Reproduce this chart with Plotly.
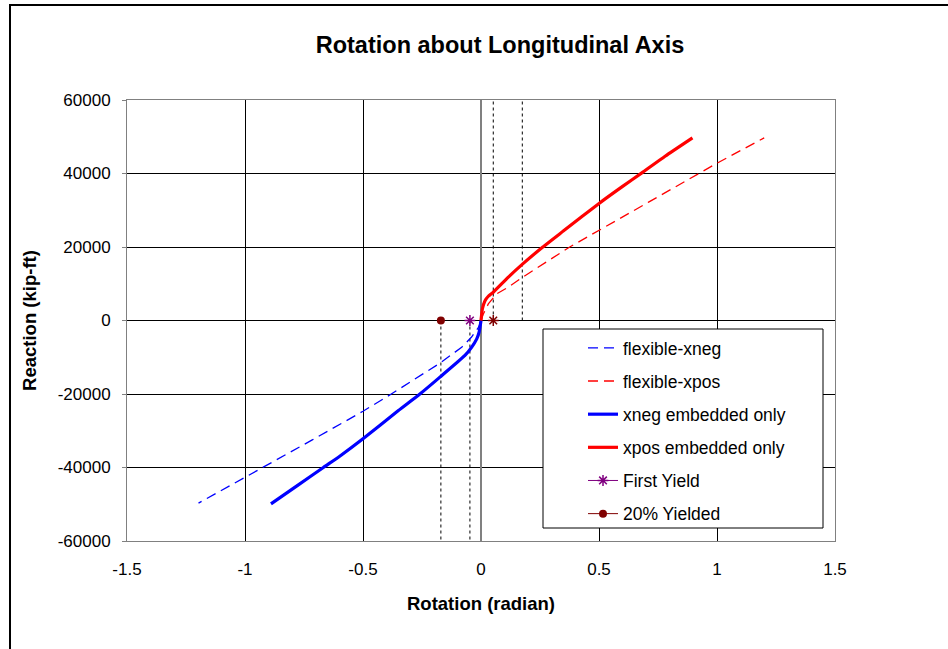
import plotly.graph_objects as go

# ---- data ----
flex_neg_x = [0, -0.01, -0.04, -0.082, -0.11, -0.174, -0.38, -0.5, -0.715, -1.0, -1.197]
flex_neg_y = [0, -1800, -4500, -7300, -8600, -11600, -20000, -24700, -32500, -42600, -49700]
flex_pos_x = [0, 0.01, 0.031, 0.066, 0.116, 0.177, 0.376, 0.503, 0.71, 1.0, 1.2]
flex_pos_y = [0, 1800, 4500, 7250, 9100, 11800, 20000, 24700, 32200, 42800, 49700]
xneg_x = [0, -0.008, -0.018, -0.04, -0.068, -0.174, -0.259, -0.35, -0.5, -0.6, -0.668, -0.78, -0.89]
xneg_y = [0, -3200, -5000, -7300, -9500, -15400, -20000, -24500, -32200, -37000, -40000, -45000, -49900]
xpos_x = [0, 0.006, 0.017, 0.031, 0.052, 0.116, 0.177, 0.262, 0.35, 0.503, 0.6, 0.68, 0.78, 0.896]
xpos_y = [0, 3200, 5400, 6600, 7700, 11800, 15400, 20000, 24400, 32000, 36500, 40100, 44700, 49700]

first_yield_x = [-0.047]
first_yield_y = [0]
first_yield_pos_x = [0.052]
first_yield_pos_y = [0]
yield20_x = [-0.17]
yield20_y = [0]

neg_guides = [-0.17, -0.047]
pos_guides = [0.052, 0.175]

x_ticks = [-1.5, -1, -0.5, 0, 0.5, 1, 1.5]
x_ticktext = ["-1.5", "-1", "-0.5", "0", "0.5", "1", "1.5"]
y_ticks = [-60000, -40000, -20000, 0, 20000, 40000, 60000]
y_ticktext = ["-60000", "-40000", "-20000", "0", "20000", "40000", "60000"]

FONT = "Liberation Sans, Arial, sans-serif"

fig = go.Figure()

# vertical dashed guide lines
for gx in neg_guides:
    fig.add_trace(go.Scatter(x=[gx, gx], y=[0, -60000], mode="lines",
                             line=dict(color="black", width=1, dash="3px,3px"),
                             showlegend=False, hoverinfo="skip"))
for gx in pos_guides:
    fig.add_trace(go.Scatter(x=[gx, gx], y=[0, 60000], mode="lines",
                             line=dict(color="black", width=1, dash="3px,3px"),
                             showlegend=False, hoverinfo="skip"))

fig.add_trace(go.Scatter(x=flex_neg_x, y=flex_neg_y, mode="lines", name="flexible-xneg",
                         legendgroup="a", line=dict(color="#0000FF", width=1.3, dash="10px,6px")))
fig.add_trace(go.Scatter(x=flex_pos_x, y=flex_pos_y, mode="lines", name="flexible-xpos",
                         legendgroup="b", line=dict(color="#FF0000", width=1.3, dash="10px,6px")))
fig.add_trace(go.Scatter(x=xneg_x, y=xneg_y, mode="lines", name="xneg embedded only",
                         legendgroup="c", line=dict(color="#0000FF", width=3.2, shape="spline", smoothing=0.5)))
fig.add_trace(go.Scatter(x=xpos_x, y=xpos_y, mode="lines", name="xpos embedded only",
                         legendgroup="d", line=dict(color="#FF0000", width=3.2, shape="spline", smoothing=0.5)))
fig.add_trace(go.Scatter(x=first_yield_x, y=first_yield_y, mode="lines+markers", name="First Yield",
                         legendgroup="e", line=dict(color="#800080", width=1),
                         marker=dict(symbol="asterisk-open", size=9, color="#800080",
                                     line=dict(color="#800080", width=1.5))))
fig.add_trace(go.Scatter(x=first_yield_pos_x, y=first_yield_pos_y, mode="markers", showlegend=False,
                         marker=dict(symbol="asterisk-open", size=9, color="#800000",
                                     line=dict(color="#800000", width=1.5))))
fig.add_trace(go.Scatter(x=yield20_x, y=yield20_y, mode="lines+markers", name="20% Yielded",
                         legendgroup="f", line=dict(color="#800000", width=1),
                         marker=dict(symbol="circle", size=8, color="#800000")))

# plot area: x 127..835, y 100..541 in a 948x649 page
L, R, T, B = 127, 835, 100, 541
W, H = 948, 649
pw, ph = R - L, B - T

def px(xp):
    return (xp - L) / pw

def py(yp):
    return (B - yp) / ph

shapes = [
    # outer chart border (only left/top visible)
    dict(type="rect", xref="paper", yref="paper", x0=px(10), x1=px(1100), y0=py(800), y1=py(5),
         line=dict(color="black", width=2), fillcolor="rgba(0,0,0,0)", layer="below"),
    # legend box
    dict(type="rect", xref="paper", yref="paper", x0=px(543), x1=px(823), y0=py(528), y1=py(329),
         line=dict(color="black", width=1), fillcolor="white", layer="above"),
]

fig.update_layout(
    width=W, height=H,
    margin=dict(l=L, r=W - R, t=T, b=H - B),
    paper_bgcolor="white", plot_bgcolor="white",
    font=dict(family=FONT, size=17, color="black"),
    title=dict(text="<b>Rotation about Longitudinal Axis</b>", x=500 / W, xanchor="center",
               y=1 - 45 / H, yanchor="middle", font=dict(size=23.5)),
    xaxis=dict(range=[-1.5, 1.5], tickvals=x_ticks, ticktext=x_ticktext,
               showgrid=True, gridcolor="black", gridwidth=1,
               zeroline=True, zerolinecolor="#808080", zerolinewidth=2,
               showline=True, linecolor="#808080", linewidth=1, mirror=True,
               ticks="", ticklabelstandoff=13, tickfont=dict(size=17),
               title=dict(text="<b>Rotation (radian)</b>", standoff=18, font=dict(size=18.5)),
               fixedrange=True),
    yaxis=dict(range=[-60000, 60000], tickvals=y_ticks, ticktext=y_ticktext,
               showgrid=True, gridcolor="black", gridwidth=1,
               zeroline=True, zerolinecolor="black", zerolinewidth=1,
               showline=True, linecolor="#808080", linewidth=1, mirror=True,
               ticks="outside", ticklen=4, tickcolor="#808080", ticklabelstandoff=8,
               tickfont=dict(size=17),
               title=dict(text="<b>Reaction (kip-ft)</b>", standoff=16, font=dict(size=18.5)),
               fixedrange=True),
    legend=dict(x=px(583), y=py(330), xanchor="left", yanchor="top",
                bgcolor="rgba(0,0,0,0)", borderwidth=0,
                traceorder="grouped", tracegroupgap=7.4,
                font=dict(size=17.5)),
    shapes=shapes,
    showlegend=True,
)

fig.write_html("out.html", post_script="document.body.style.margin='0';",
               config={"displayModeBar": False})
